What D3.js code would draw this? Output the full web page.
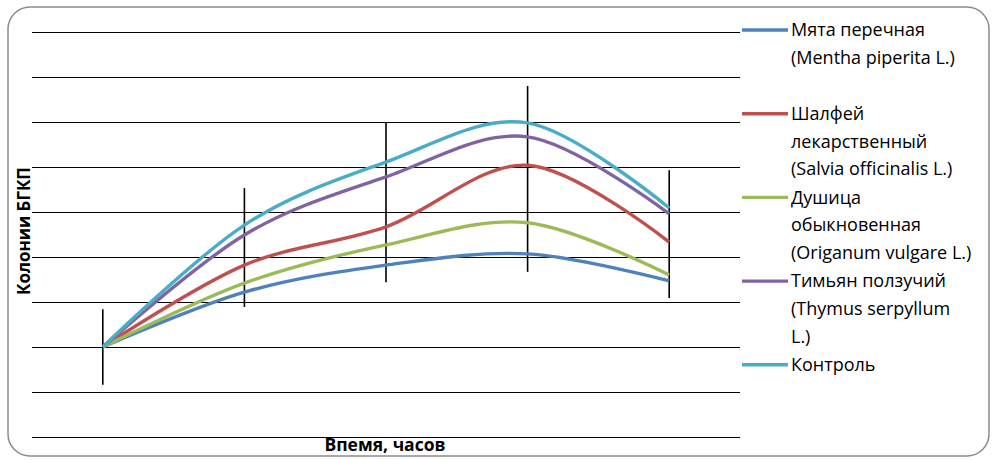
<!DOCTYPE html>
<html>
<head>
<meta charset="utf-8">
<script src="https://cdn.jsdelivr.net/npm/d3@7"></script>
<style>
  body { margin: 0; background: #fff; }
  svg { display: block; }
  .grid line { stroke: #000; stroke-width: 1.2; }
  .legend text { font-family: "Open Sans", sans-serif; font-size: 18px; fill: #000; }
  .title { font-family: "Open Sans", sans-serif; font-weight: bold; font-size: 17px; fill: #000; }
</style>
</head>
<body>
<div id="chart"></div>
<script>
// time points (no labels on the picture)
var times = ["t1", "t2", "t3", "t4", "t5"];

var seriesNames = [
  ["Мята перечная", "(Mentha piperita L.)"],
  ["Шалфей", "лекарственный", "(Salvia officinalis L.)"],
  ["Душица", "обыкновенная", "(Origanum vulgare L.)"],
  ["Тимьян ползучий", "(Thymus serpyllum", "L.)"],
  ["Контроль"]
];
var colors = ["#4F81BD", "#C0504D", "#9BBB59", "#8064A2", "#4BACC6"];

var mentha   = [2.0, 3.22, 3.82, 4.07, 3.47];
var salvia   = [2.0, 3.82, 4.67, 6.04, 4.33];
var origanum = [2.0, 3.42, 4.27, 4.76, 3.60];
var thymus   = [2.0, 4.49, 5.78, 6.67, 4.96];
var control  = [2.0, 4.71, 6.11, 6.98, 5.09];
var allSeries = [mentha, salvia, origanum, thymus, control];

// error bar ends
var errLow  = [1.16, 2.89, 3.44, 3.67, 3.09];
var errHigh = [2.84, 5.53, 7.00, 7.80, 5.93];

var gridTicks = d3.range(0, 10);

var W = 993, H = 460;
var margin = {top: 32, right: 253, bottom: 23, left: 32},
    width = W - margin.left - margin.right,
    height = H - margin.top - margin.bottom;

var svg = d3.select("#chart")
  .append("svg")
    .attr("width", W)
    .attr("height", H);

// outer rounded frame
svg.append("rect")
  .attr("x", 8).attr("y", 7)
  .attr("width", 981).attr("height", 449)
  .attr("rx", 22).attr("ry", 22)
  .attr("fill", "#fff")
  .attr("stroke", "#8c8c8c")
  .attr("stroke-width", 1.5);

var g = svg.append("g")
  .attr("transform", "translate(" + margin.left + "," + margin.top + ")");

var x = d3.scalePoint()
  .domain(times)
  .range([0, width])
  .padding(0.5);

var y = d3.scaleLinear()
  .domain([0, 9])
  .range([height, 0]);

// gridlines
g.append("g")
  .attr("class", "grid")
  .call(d3.axisLeft(y).tickValues(gridTicks).tickSize(-width).tickFormat(""))
  .call(function(s) { s.select(".domain").remove(); });

// error bars
g.selectAll(".err")
  .data(times)
  .enter()
  .append("line")
    .attr("class", "err")
    .attr("x1", function(d) { return x(d); })
    .attr("x2", function(d) { return x(d); })
    .attr("y1", function(d, i) { return y(errLow[i]); })
    .attr("y2", function(d, i) { return y(errHigh[i]); })
    .attr("stroke", "#000")
    .attr("stroke-width", 1.6);

// lines
var line = d3.line()
  .x(function(d, i) { return x(times[i]); })
  .y(function(d) { return y(d); })
  .curve(d3.curveCardinal.tension(0));

g.selectAll(".series")
  .data(allSeries)
  .enter()
  .append("path")
    .attr("class", "series")
    .attr("d", line)
    .attr("fill", "none")
    .attr("stroke", function(d, i) { return colors[i]; })
    .attr("stroke-width", 3.4);

// axis titles
svg.append("text")
  .attr("class", "title")
  .attr("transform", "translate(30,231)rotate(-90)")
  .attr("text-anchor", "middle")
  .text("Колонии БГКП");

svg.append("text")
  .attr("class", "title")
  .attr("x", 385)
  .attr("y", 451)
  .attr("text-anchor", "middle")
  .style("font-size", "17.5px")
  .text("Впемя, часов");

// legend
var legend = svg.append("g").attr("class", "legend");
var slot = 83.7, lineH = 27.7;

seriesNames.forEach(function(names, i) {
  var y0 = 30 + i * slot;
  legend.append("line")
    .attr("x1", 742).attr("x2", 788)
    .attr("y1", y0).attr("y2", y0)
    .attr("stroke", colors[i])
    .attr("stroke-width", 3.4);
  names.forEach(function(t, j) {
    legend.append("text")
      .attr("x", 791)
      .attr("y", y0 + j * lineH)
      .attr("dy", "0.35em")
      .text(t);
  });
});
</script>
</body>
</html>
